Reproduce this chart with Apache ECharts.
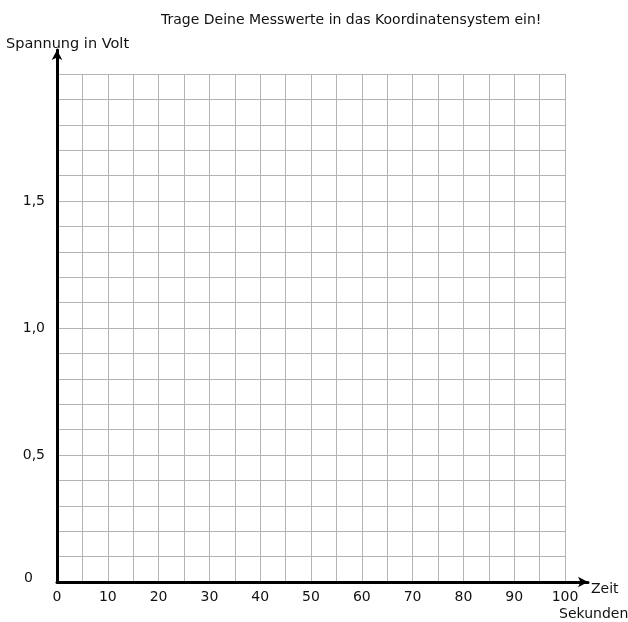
<!DOCTYPE html>
<html>
<head>
<meta charset="utf-8">
<script src="https://cdn.jsdelivr.net/npm/echarts@6/dist/echarts.min.js"></script>
<style>
  html, body { margin: 0; padding: 0; background: #fff; }
  #chart { width: 628px; height: 622px; }
</style>
</head>
<body>
<div id="chart"></div>
<script>
  // Achsen: Zeit in Sekunden, Spannung in Volt
  var zeitMin = 0
  var zeitMax = 100
  var zeitSchritt = 10
  var spannungMin = 0
  var spannungMax = 2
  var spannungSchritt = 0.5
  var spannungLabels = ['0', '0,5', '1,0', '1,5', '']
  // Messwerte sind leer, das Blatt soll ausgefüllt werden
  var messwerte = []

  var font = 'DejaVu Sans'
  var gridColor = '#b4b4b4'

  var myChart = echarts.init(document.getElementById('chart'))
  var option = {
    backgroundColor: '#fff',
    animation: false,
    textStyle: { fontFamily: font },
    title: [
      {
        text: 'Trage Deine Messwerte in das Koordinatensystem ein!',
        left: 161,
        top: 13,
        padding: 0,
        textStyle: { fontFamily: font, fontSize: 14, fontWeight: 'normal', color: '#111' }
      },
      {
        text: 'Sekunden',
        left: 559,
        top: 607,
        padding: 0,
        textStyle: { fontFamily: font, fontSize: 14, fontWeight: 'normal', color: '#111' }
      }
    ],
    grid: [
      // Kästchenraster
      { left: 57, right: 63, top: 74, bottom: 40, outerBoundsMode: 'none' },
      // Achsen mit Pfeilen
      { left: 57, right: 40, top: 50, bottom: 40, outerBoundsMode: 'none' }
    ],
    xAxis: [
      {
        type: 'value',
        gridIndex: 0,
        min: zeitMin,
        max: zeitMax,
        interval: zeitSchritt,
        axisLine: { show: false },
        axisTick: { show: false },
        minorTick: { show: false, splitNumber: 2 },
        splitLine: { show: true, lineStyle: { color: gridColor, width: 1 } },
        minorSplitLine: { show: true, lineStyle: { color: gridColor, width: 1 } },
        axisLabel: { margin: 8, color: '#111', fontSize: 14, fontFamily: font }
      },
      {
        type: 'value',
        gridIndex: 1,
        min: 0,
        max: 1,
        axisLine: {
          show: true,
          symbol: ['none', 'arrow'],
          symbolSize: [8, 10],
          lineStyle: { color: '#000', width: 3 }
        },
        axisTick: { show: false },
        axisLabel: { show: false },
        splitLine: { show: false },
        name: 'Zeit',
        nameLocation: 'end',
        nameGap: 3,
        nameTextStyle: { color: '#111', fontSize: 14, fontFamily: font, verticalAlign: 'top' }
      }
    ],
    yAxis: [
      {
        type: 'value',
        gridIndex: 0,
        min: spannungMin,
        max: spannungMax,
        interval: spannungSchritt,
        axisLine: { show: false },
        axisTick: { show: false },
        minorTick: { show: false, splitNumber: 5 },
        splitLine: { show: true, lineStyle: { color: gridColor, width: 1 } },
        minorSplitLine: { show: true, lineStyle: { color: gridColor, width: 1 } },
        axisLabel: {
          margin: 12,
          color: '#111',
          fontSize: 14,
          fontFamily: font,
          formatter: function (v) {
            var i = Math.round((v - spannungMin) / spannungSchritt)
            if (i === 0) return '{z|' + spannungLabels[0] + '}'
            return spannungLabels[i] || ''
          },
          rich: {
            z: { fontSize: 14, fontFamily: font, color: '#111', padding: [0, 12, 8, 0] }
          }
        }
      },
      {
        type: 'value',
        gridIndex: 1,
        min: 0,
        max: 1,
        axisLine: {
          show: true,
          symbol: ['none', 'arrow'],
          symbolSize: [8, 10],
          lineStyle: { color: '#000', width: 3 }
        },
        axisTick: { show: false },
        axisLabel: { show: false },
        splitLine: { show: false },
        name: 'Spannung in Volt',
        nameLocation: 'end',
        nameGap: -2,
        nameTextStyle: { color: '#111', fontSize: 14.5, fontFamily: font, align: 'left', padding: [0, 0, 0, -51] }
      }
    ],
    series: [
      {
        type: 'scatter',
        xAxisIndex: 0,
        yAxisIndex: 0,
        data: messwerte
      }
    ]
  }
  myChart.setOption(option)
</script>
</body>
</html>
